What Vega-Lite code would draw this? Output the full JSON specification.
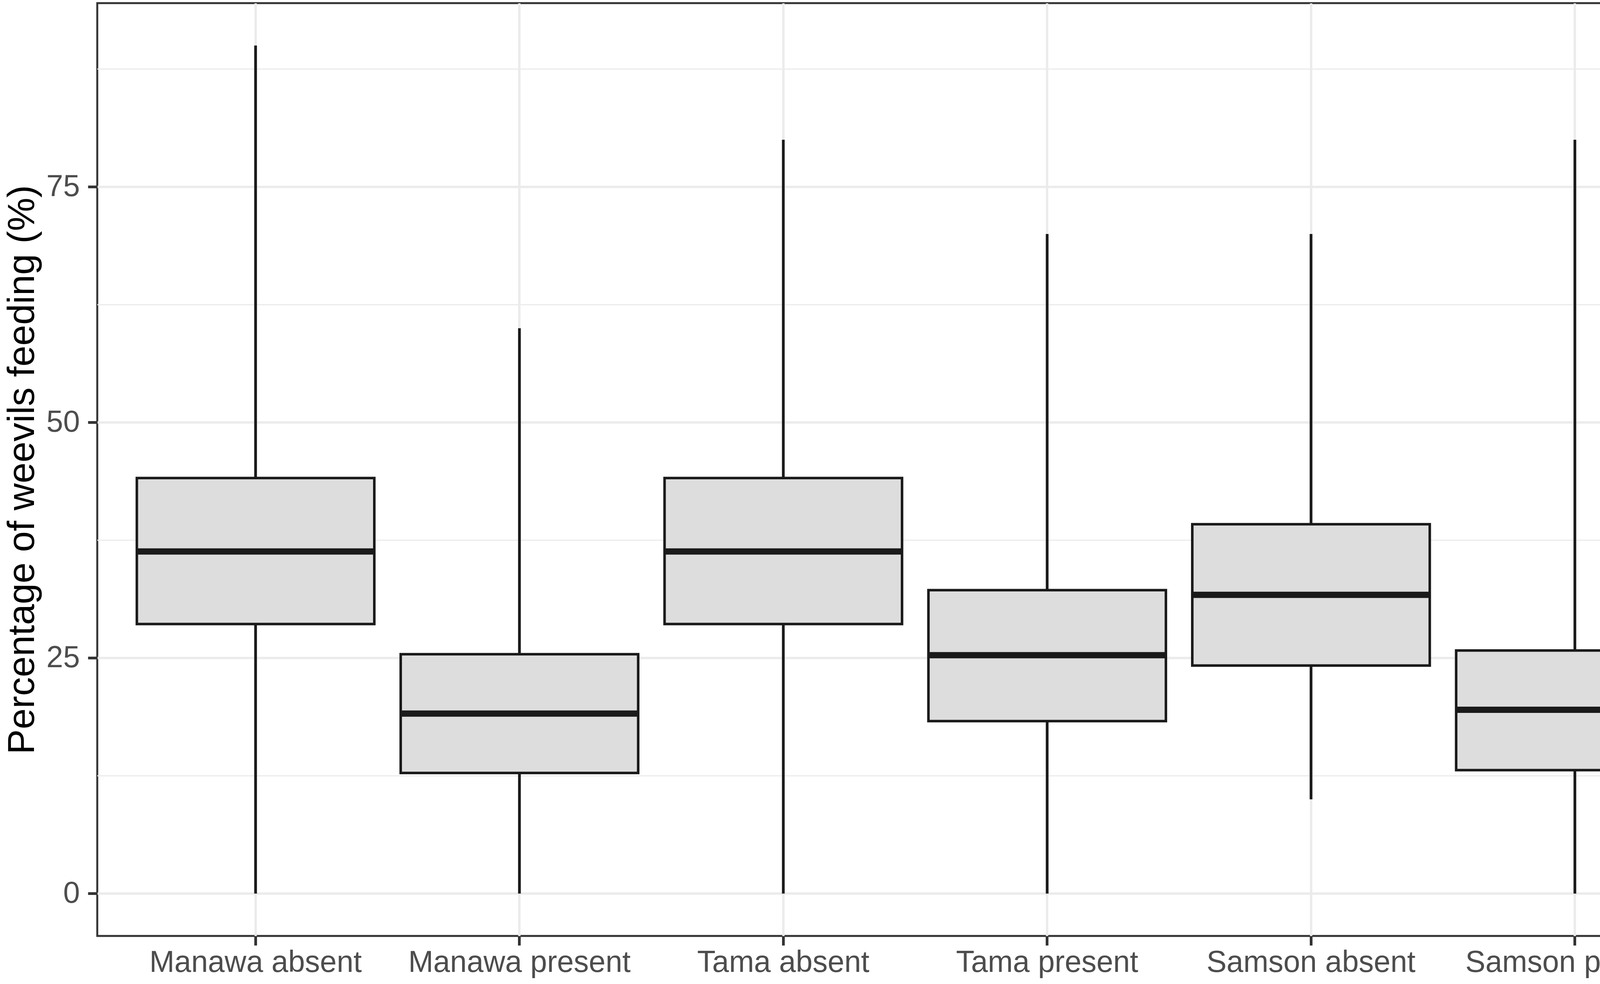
{
  "$schema": "https://vega.github.io/schema/vega-lite/v6.json",
  "autosize": "none",
  "width": 4188,
  "height": 2388,
  "padding": {"left": 249, "top": 8, "right": 8, "bottom": 123},
  "background": "white",
  "datasets": {
    "boxes": [
      {"group": "Manawa absent", "lower": 0, "q1": 28.6, "median": 36.3, "q3": 44.1, "upper": 90},
      {"group": "Manawa present", "lower": 0, "q1": 12.8, "median": 19.1, "q3": 25.4, "upper": 60},
      {"group": "Tama absent", "lower": 0, "q1": 28.6, "median": 36.3, "q3": 44.1, "upper": 80},
      {"group": "Tama present", "lower": 0, "q1": 18.3, "median": 25.3, "q3": 32.2, "upper": 70},
      {"group": "Samson absent", "lower": 10, "q1": 24.2, "median": 31.7, "q3": 39.2, "upper": 70},
      {"group": "Samson present", "lower": 0, "q1": 13.1, "median": 19.5, "q3": 25.8, "upper": 80}
    ],
    "minor": [{"y": 12.5}, {"y": 37.5}, {"y": 62.5}, {"y": 87.5}]
  },
  "config": {
    "font": "Liberation Sans",
    "view": {"stroke": "#333333", "strokeWidth": 5, "fill": "white"},
    "axis": {
      "labelFont": "Liberation Sans",
      "labelFontSize": 77,
      "labelColor": "#4D4D4D",
      "labelLimit": 0,
      "tickColor": "#333333",
      "tickWidth": 7,
      "tickSize": 24,
      "domain": false,
      "gridColor": "#EBEBEB",
      "gridWidth": 6,
      "titleFont": "Liberation Sans",
      "titleFontWeight": "normal",
      "titleColor": "black",
      "titleFontSize": 96,
      "titleLimit": 0
    }
  },
  "layer": [
    {
      "data": {"name": "minor"},
      "mark": {"type": "rule", "color": "#EBEBEB", "strokeWidth": 3},
      "encoding": {
        "y": {"field": "y", "type": "quantitative", "scale": {"domain": [-4.5, 94.5], "nice": false, "zero": false}}
      }
    },
    {
      "data": {"name": "boxes"},
      "mark": {"type": "rule", "color": "#1A1A1A", "strokeWidth": 7},
      "encoding": {
        "x": {
          "field": "group", "type": "nominal", "sort": null,
          "scale": {"type": "band", "paddingInner": 0.1, "paddingOuter": 0.15},
          "axis": {"title": null, "labelAngle": 0, "labelPadding": 6, "grid": true, "bandPosition": 0.5}
        },
        "y": {
          "field": "lower", "type": "quantitative",
          "scale": {"domain": [-4.5, 94.5], "nice": false, "zero": false},
          "axis": {"title": "Percentage of weevils feeding (%)", "values": [0, 25, 50, 75], "labelPadding": 21, "titlePadding": 12, "grid": true}
        },
        "y2": {"field": "upper"}
      }
    },
    {
      "data": {"name": "boxes"},
      "mark": {"type": "bar", "fill": "#DDDDDD", "stroke": "#1A1A1A", "strokeWidth": 6.5},
      "encoding": {
        "x": {"field": "group", "type": "nominal", "sort": null},
        "y": {"field": "q1", "type": "quantitative"},
        "y2": {"field": "q3"}
      }
    },
    {
      "data": {"name": "boxes"},
      "mark": {"type": "tick", "color": "#1A1A1A", "orient": "horizontal", "size": 608, "thickness": 16, "opacity": 1},
      "encoding": {
        "x": {"field": "group", "type": "nominal", "sort": null},
        "y": {"field": "median", "type": "quantitative"}
      }
    }
  ]
}
